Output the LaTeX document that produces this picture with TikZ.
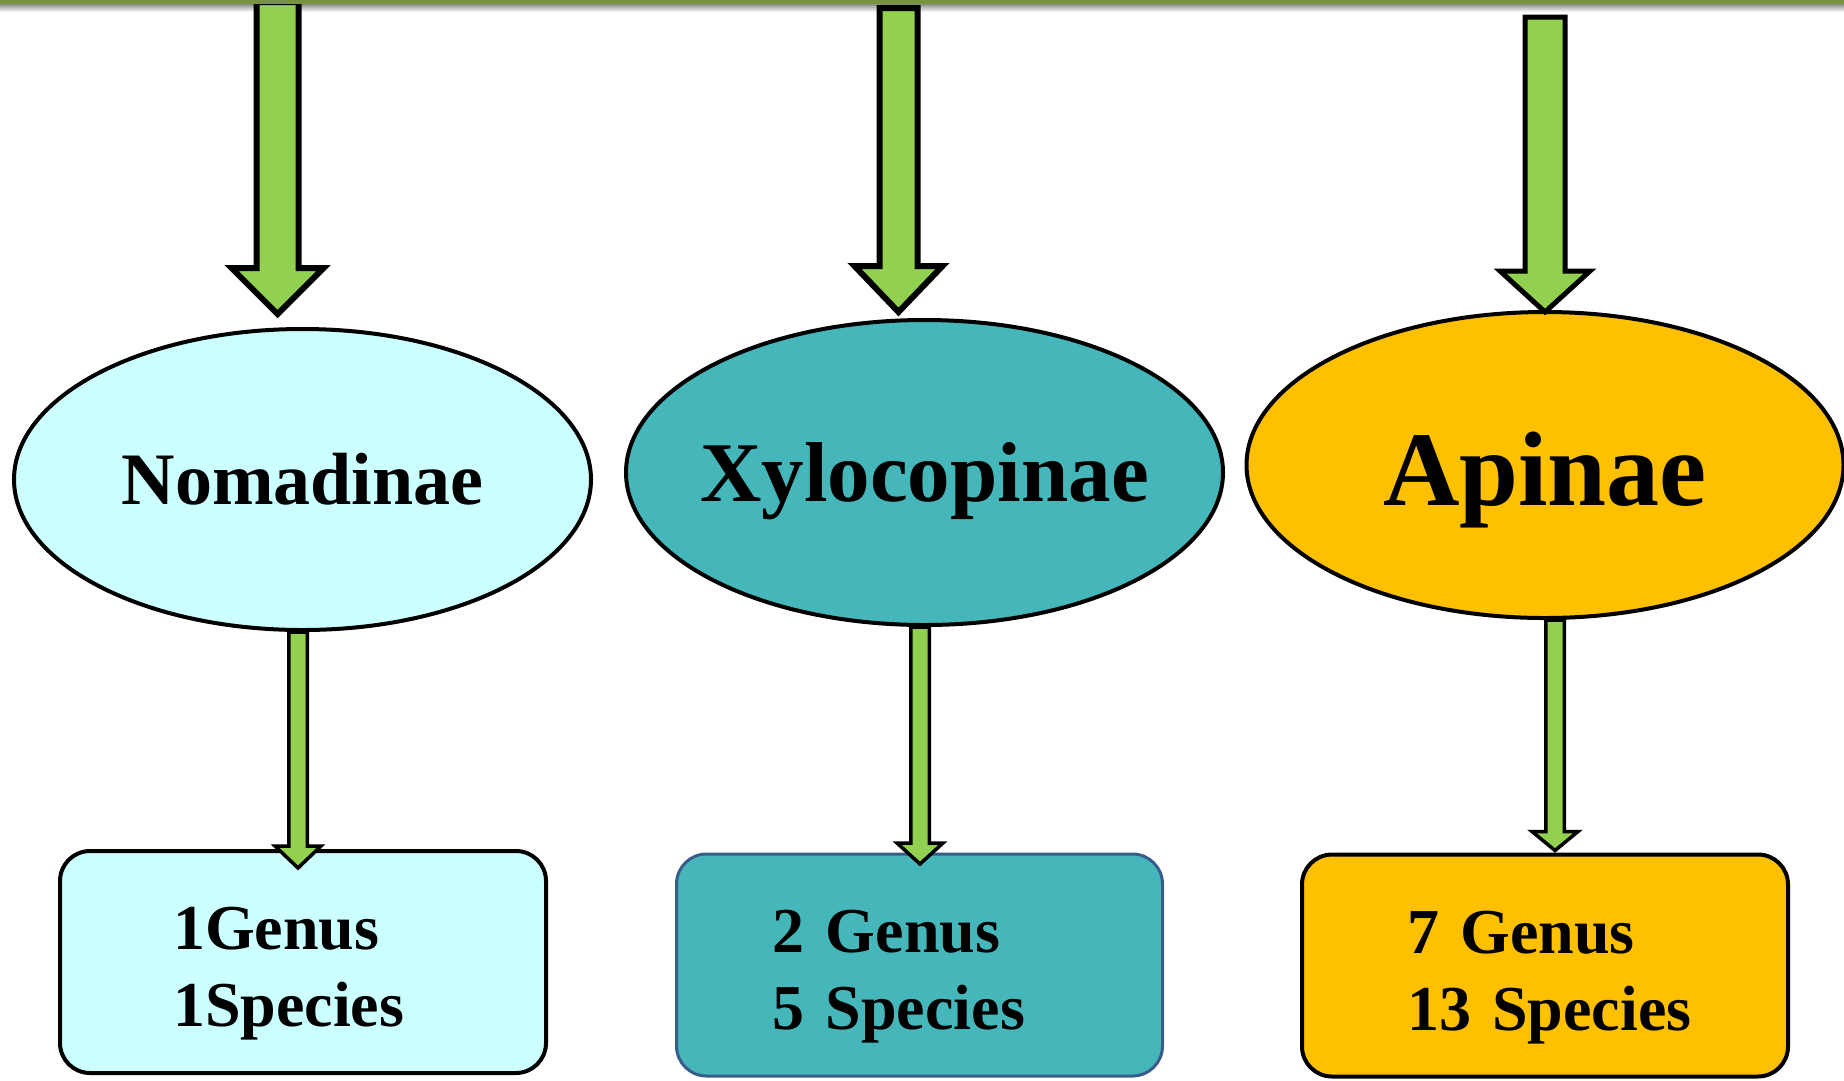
\documentclass[tikz,border=0pt]{standalone}
\usepackage{fontspec}
\setmainfont{Liberation Serif}
\usetikzlibrary{shapes.geometric,calc}

\definecolor{bargreen}{HTML}{77933C}
\definecolor{arrowgreen}{HTML}{92D050}
\definecolor{paleaqua}{HTML}{CCFFFF}
\definecolor{tealfill}{HTML}{45B7BA}
\definecolor{amber}{HTML}{FFC000}
\definecolor{slateedge}{HTML}{385D8A}

% block arrow: style, from, tip, half shaft, half head, head length
\newcommand{\blockarrow}[6]{%
  \draw[#1] ($(#2)+(-#4,0)$) -- ($(#3)+(-#4,-#6)$) -- ($(#3)+(-#5,-#6)$)
    -- (#3) -- ($(#3)+(#5,-#6)$) -- ($(#3)+(#4,-#6)$) -- ($(#2)+(#4,0)$) -- cycle;}

\tikzset{
  subfamily/.style={ellipse, draw=black, line width=4pt, inner sep=0pt},
  famname/.style={font=\bfseries, text depth=0pt},
  countbox/.style={rectangle, rounded corners=30pt, draw=black, line width=4pt,
    minimum width=486pt, minimum height=222pt, inner sep=0pt, align=left,
    font=\bfseries\fontsize{64}{77}\selectfont, text height=66pt},
  bigarrow/.style={draw=black, fill=arrowgreen, line width=6pt},
  smallarrow/.style={draw=black, fill=arrowgreen, line width=3.5pt},
}

\begin{document}
\begin{tikzpicture}[x=1pt, y=-1pt]
    \useasboundingbox (0,0) rectangle (1844,1080);

    % subfamilies
    \node[subfamily, fill=paleaqua, minimum width=577pt, minimum height=301pt,
        label={[famname, font=\bfseries\fontsize{74}{89}\selectfont, text height=49pt]center:Nomadinae}]
        (nomadinae) at (302.5,479.5) {};
    \node[subfamily, fill=tealfill, minimum width=597pt, minimum height=305pt,
        label={[famname, font=\bfseries\fontsize{85}{102}\selectfont, text height=58pt]center:Xylocopinae}]
        (xylocopinae) at (924.5,472.5) {};
    \node[subfamily, fill=amber, minimum width=597pt, minimum height=306pt,
        label={[famname, font=\bfseries\fontsize{106}{127}\selectfont, text height=80pt]center:Apinae}]
        (apinae) at (1545,465) {};

    % genus / species counts
    \node[countbox, fill=paleaqua, text width=260pt] (nomcount) at (303,962) {1Genus\\1Species};
    \node[countbox, fill=tealfill, draw=slateedge, line width=3pt, text width=294pt]
        (xylcount) at (919.5,965) {2 Genus\\5 Species};
    \node[countbox, fill=amber, text width=276pt] (apicount) at (1545,965.5) {7 Genus\\13~Species};

    % top bar
    \coordinate (barL) at (0,2);
    \coordinate (barR) at (1844,2);
    \shade[top color=black!45, bottom color=white] (0,4) rectangle (1844,12);

    % arrows from the bar
    \coordinate (tipA) at ($(nomadinae.north)+(-25,-13)$);
    \coordinate (tipB) at ($(xylocopinae.north)+(-26,-6)$);
    \coordinate (tipC) at ($(apinae.north)+(0,2)$);
    \coordinate (inA) at (tipA |- barL);
    \coordinate (inB) at ($(tipB |- barL)+(0,6)$);
    \coordinate (inC) at ($(tipC |- barL)+(0,15)$);
    \blockarrow{bigarrow}{inA}{tipA}{21}{46}{46}
    \blockarrow{bigarrow}{inB}{tipB}{19}{44}{46}
    \blockarrow{bigarrow, line width=5pt}{inC}{tipC}{20}{45}{41}

    % arrows to the counts
    \coordinate (tipD) at ($(nomcount.north)+(-5,19)$);
    \coordinate (tipE) at ($(xylcount.north)+(0.5,11.5)$);
    \coordinate (tipF) at ($(apicount.north)+(10,-2)$);
    \coordinate (outD) at (tipD |- nomadinae.south);
    \coordinate (outE) at (tipE |- xylocopinae.south);
    \coordinate (outF) at (tipF |- apinae.south);
    \blockarrow{smallarrow}{outD}{tipD}{9.25}{23}{22}
    \blockarrow{smallarrow}{outE}{tipE}{9.25}{23}{21}
    \blockarrow{smallarrow}{outF}{tipF}{9.25}{23}{19}

    \fill[bargreen] (barL) ++(0,-2) rectangle ($(barR)+(0,2)$);
\end{tikzpicture}
\end{document}
